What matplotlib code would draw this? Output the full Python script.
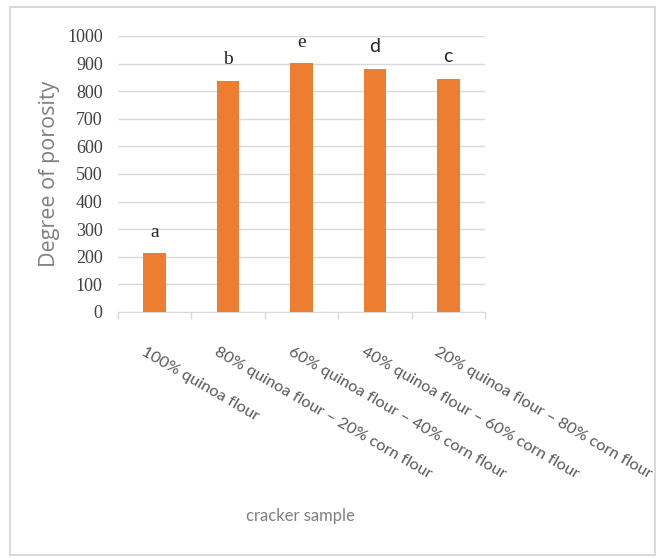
import matplotlib.pyplot as plt
import numpy as np
from matplotlib.patches import Rectangle
from matplotlib.transforms import ScaledTranslation

# Data
samples = [
    "100% quinoa flour",
    "80% quinoa flour \u2013 20% corn flour",
    "60% quinoa flour \u2013 40% corn flour",
    "40% quinoa flour \u2013 60% corn flour",
    "20% quinoa flour \u2013 80% corn flour",
]
porosity = [213, 837, 901, 881, 845]
letters = ["a", "b", "e", "d", "c"]

ORANGE = "#ED7D31"
GRID = "#d9d9d9"
SERIF = "Liberation Serif"
SANS = "Lato"
letter_fonts = [SERIF, SERIF, SERIF, SANS, SANS]

fig = plt.figure(figsize=(6.58, 5.59), dpi=100)
ax = fig.add_axes([118 / 658, 1 - 312 / 559, 367 / 658, 276 / 559])

x = np.arange(len(samples))
bars = ax.bar(x, porosity, width=0.31, color=ORANGE, zorder=3)

# significance letters above the bars
for xi, val, lab, fam in zip(x, porosity, letters, letter_fonts):
    ax.annotate(lab, (xi, val), xytext=(0, 12), textcoords="offset points",
                ha="center", va="baseline", fontsize=14, family=fam,
                color="#262626")

ax.set_xlim(-0.5, len(samples) - 0.5)
ax.set_ylim(0, 1000)
ax.set_yticks(np.arange(0, 1001, 100))
ax.grid(axis="y", color=GRID, linewidth=1, zorder=0)

for side in ["top", "right", "left"]:
    ax.spines[side].set_visible(False)
ax.spines["bottom"].set_color(GRID)

ax.tick_params(axis="y", length=0, pad=11)
for lbl in ax.get_yticklabels():
    lbl.set_family(SERIF)
    lbl.set_fontsize(13)
    lbl.set_color("#404040")

# category boundary ticks
ax.set_xticks(np.arange(-0.5, len(samples)), minor=True)
ax.tick_params(axis="x", which="minor", length=5, color=GRID, width=1)
ax.set_xticks(x)
ax.set_xticklabels(samples, rotation=-30, ha="left", va="top",
                   rotation_mode="anchor", fontsize=11.8, family=SANS,
                   color="#595959")
ax.tick_params(axis="x", which="major", length=0, pad=24)
offset = ScaledTranslation(-9 / 100, 0, fig.dpi_scale_trans)
for lbl in ax.get_xticklabels():
    lbl.set_transform(lbl.get_transform() + offset)

ax.set_ylabel("Degree of porosity", fontsize=15.5, family="Open Sans",
              color="#7f7f7f", labelpad=5)
fig.text(300 / 658, 1 - 516 / 559, "cracker sample", ha="center",
         va="center", fontsize=12, family=SANS, color="#7f7f7f")

# light chart border
fig.patches.append(Rectangle((10 / 658, 1 - 555 / 559), 645 / 658, 548 / 559,
                             transform=fig.transFigure, fill=False,
                             edgecolor=GRID, linewidth=1.5))

fig.savefig("out.png", dpi=100, facecolor="white")
